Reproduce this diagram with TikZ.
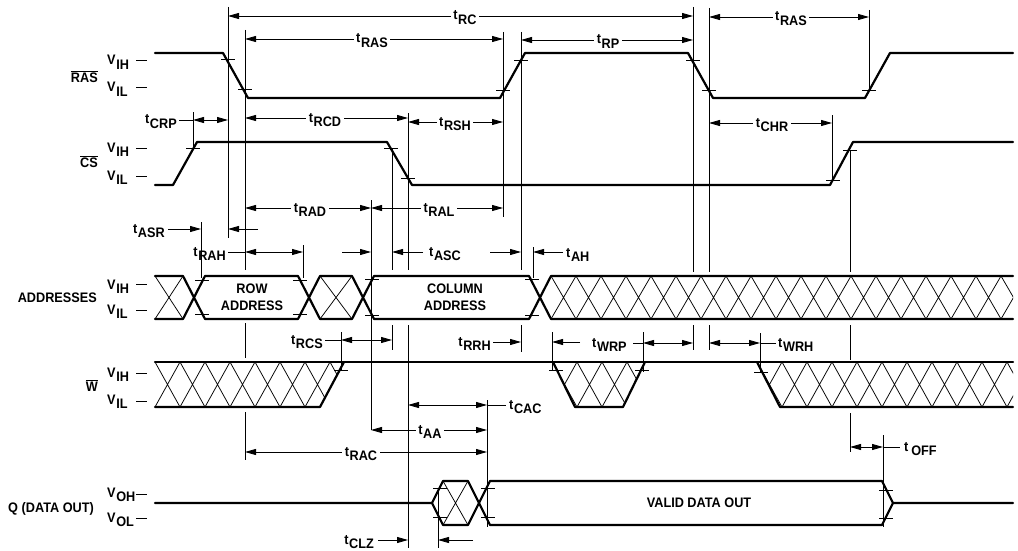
\documentclass[tikz,border=0pt]{standalone}
\usepackage{fontspec}
\setmainfont{Liberation Sans Bold}[FakeStretch=0.92]
\usetikzlibrary{arrows.meta}
\newcommand\lv[2]{#1\kern0.6pt\lower4.5pt\hbox{#2}}
\newcommand\ovl[1]{$\overline{\mbox{#1}}$}
\newcommand\tk[2]{\draw[tick] (#1,#2) ++(-7,0) -- ++(14,0);}
\begin{document}
\begin{tikzpicture}[x=1pt,y=-1pt,
  sig/.style={line width=2.2pt,line join=round,line cap=round},
  ref/.style={line width=0.8pt},
  hatch/.style={line width=0.75pt},
  tick/.style={line width=1pt},
  dim/.style={line width=0.8pt},
  >={Triangle[length=11pt,width=6pt]},
  lab/.style={font=\fontsize{13.8}{17}\selectfont, inner sep=0pt},
  tl/.style={lab, fill=white, inner xsep=2.5pt, inner ysep=1pt, anchor=base},
]
\useasboundingbox (0,0) rectangle (1018,551);

% ---------- signal names and levels ----------
\node[lab,anchor=base east] (nRAS) at (98,82) {\ovl{RAS}};
\node[lab,anchor=base west] (vRASh) at (107,65) {\lv{V}{IH}};
\node[lab,anchor=base west] (vRASl) at (107,92) {\lv{V}{IL}};
\draw[tick] (136,61) -- (147,61) (136,88) -- (147,88);

\node[lab,anchor=base east] (nCS) at (98,167) {\ovl{CS}};
\node[lab,anchor=base west] (vCSh) at (107,152) {\lv{V}{IH}};
\node[lab,anchor=base west] (vCSl) at (107,180) {\lv{V}{IL}};
\draw[tick] (136,148) -- (147,148) (136,176) -- (147,176);

\node[lab,anchor=base east] (nADR) at (97,302) {ADDRESSES};
\node[lab,anchor=base west] (vADh) at (107,289) {\lv{V}{IH}};
\node[lab,anchor=base west] (vADl) at (107,314) {\lv{V}{IL}};
\draw[tick] (136,284) -- (147,284) (136,310) -- (147,310);

\node[lab,anchor=base east] (nW) at (98,391) {\ovl{W}};
\node[lab,anchor=base west] (vWh) at (107,377) {\lv{V}{IH}};
\node[lab,anchor=base west] (vWl) at (107,404) {\lv{V}{IL}};
\draw[tick] (136,373) -- (147,373) (136,401) -- (147,401);

\node[lab,anchor=base east] (nQ) at (94,512) {Q (DATA OUT)};
\node[lab,anchor=base west] (vQh) at (107,497) {\lv{V}{OH}};
\node[lab,anchor=base west] (vQl) at (107,522) {\lv{V}{OL}};
\draw[tick] (136,494) -- (147,494) (136,518) -- (147,518);

% ---------- RAS ----------
\draw[sig] (155,53) -- (223,53) -- (248,98) -- (500,98) -- (525,53) -- (688,53) -- (713,98) -- (865,98) -- (890,53) -- (1013,53);
\tk{228}{60} \tk{245}{90} \tk{503}{91} \tk{521}{61} \tk{693}{61} \tk{709}{91} \tk{869}{91}

% ---------- CS ----------
\draw[sig] (155,185) -- (173,185) -- (197,142) -- (387,142) -- (412,185) -- (830,185) -- (853,142) -- (1013,142);
\tk{193}{148} \tk{391}{148} \tk{408}{178} \tk{833}{180} \tk{850}{150}

% ---------- ADDRESSES ----------
\draw[hatch] (155,276) -- (183,319) (155,319) -- (183,276);
\draw[hatch] (320,276) -- (352,319) (320,319) -- (352,276);
\begin{scope}
  \clip (540,297.5) -- (551,276) -- (1013,276) -- (1013,319) -- (551,319) -- cycle;
  \foreach \i in {0,...,18} \draw[hatch] (551+25*\i,276) -- ++(25,43) (551+25*\i,319) -- ++(25,-43);
\end{scope}
\draw[sig] (155,276) -- (183,276) -- (205,319) -- (298,319) -- (320,276) -- (352,276) -- (374,319) -- (529,319) -- (551,276) -- (1013,276);
\draw[sig] (155,319) -- (183,319) -- (205,276) -- (298,276) -- (320,319) -- (352,319) -- (374,276) -- (529,276) -- (551,319) -- (1013,319);
\tk{202}{280} \tk{202}{314} \tk{300}{280} \tk{300}{314} \tk{372}{279} \tk{372}{315} \tk{532}{279} \tk{532}{315}
\node[lab,align=center] (row) at (252,297) {ROW\\ADDRESS};
\node[lab,align=center] (col) at (455,297) {COLUMN\\ADDRESS};

% ---------- W ----------
\begin{scope}
  \clip (155,362) -- (344,362) -- (320,407) -- (155,407) -- cycle;
  \foreach \i in {0,...,7} \draw[hatch] (155+25*\i,362) -- ++(25,45) (155+25*\i,407) -- ++(25,-45);
\end{scope}
\begin{scope}
  \clip (553,362) -- (645,362) -- (623,407) -- (575,407) -- cycle;
  \foreach \i in {0,...,3} \draw[hatch] (552+25*\i,362) -- ++(25,45) (552+25*\i,407) -- ++(25,-45);
\end{scope}
\begin{scope}
  \clip (757,362) -- (1013,362) -- (1013,407) -- (780,407) -- cycle;
  \foreach \i in {0,...,10} \draw[hatch] (757+25*\i,362) -- ++(25,45) (757+25*\i,407) -- ++(25,-45);
\end{scope}
\draw[sig] (155,362) -- (1013,362);
\draw[sig] (155,407) -- (320,407) -- (344,362);
\draw[sig] (553,362) -- (575,407) -- (623,407) -- (645,362);
\draw[sig] (757,362) -- (780,407) -- (1013,407);
\tk{341}{370} \tk{556}{370} \tk{642}{370} \tk{761}{372}

% ---------- Q ----------
\draw[hatch] (443,481) -- (468,525) (443,525) -- (468,481);
\draw[sig] (155,503) -- (432,503) -- (443,481) -- (468,481) -- (490,525) -- (882,525) -- (893,503) -- (1013,503);
\draw[sig] (432,503) -- (443,525) -- (468,525) -- (490,481) -- (882,481) -- (893,503);
\tk{440}{488} \tk{440}{517} \tk{488}{488} \tk{488}{517} \tk{886}{490} \tk{886}{518}
\node[lab] (valid) at (699,503) {VALID DATA OUT};

% ---------- reference lines ----------
\draw[ref] (228,7) -- (228,238);
\draw[ref] (245,30) -- (245,270) (245,323) -- (245,358) (245,412) -- (245,460);
\draw[ref] (193,112) -- (193,148);
\draw[ref] (201,222) -- (201,278);
\draw[ref] (303,245) -- (303,278);
\draw[ref] (371,200) -- (371,430);
\draw[ref] (392,148) -- (392,270) (392,325) -- (392,350);
\draw[ref] (408,113) -- (408,270) (408,325) -- (408,548);
\draw[ref] (503,32) -- (503,217);
\draw[ref] (521,32) -- (521,270) (521,325) -- (521,352);
\draw[ref] (533,247) -- (533,278);
\draw[ref] (341,332) -- (341,370);
\draw[ref] (552,332) -- (552,370);
\draw[ref] (643,332) -- (643,372);
\draw[ref] (693,7) -- (693,272) (693,325) -- (693,350);
\draw[ref] (709,8) -- (709,272) (709,325) -- (709,350);
\draw[ref] (760,333) -- (760,372);
\draw[ref] (869,10) -- (869,91);
\draw[ref] (832,115) -- (832,182);
\draw[ref] (850,150) -- (850,272) (850,325) -- (850,360) (850,413) -- (850,452);
\draw[ref] (883,435) -- (883,527);
\draw[ref] (438,488) -- (438,548);
\draw[ref] (487,400) -- (487,527);

% ---------- dimensions ----------
\draw[dim,<->] (228,16) -- (693,16);   \node[tl] (tRC) at (465,20) {\lv{t}{RC}};
\draw[dim,<->] (245,39) -- (503,39);   \node[tl] (tRAS) at (372,43) {\lv{t}{RAS}};
\draw[dim,<->] (521,40) -- (693,40);   \node[tl] (tRP) at (608,44) {\lv{t}{RP}};
\draw[dim,<->] (709,17) -- (869,17);   \node[tl] (tRAS2) at (791,21) {\lv{t}{RAS}};

\node[lab,anchor=base east] (tCRP) at (177,124) {\lv{t}{CRP}};
\draw[dim] (179,120) -- (193,120);
\draw[dim,<->] (193,120) -- (228,120);
\draw[dim,<->] (245,118) -- (408,118);  \node[tl] (tRCD) at (325,122) {\lv{t}{RCD}};
\draw[dim,<->] (408,122) -- (503,122);  \node[tl] (tRSH) at (455,126) {\lv{t}{RSH}};
\draw[dim,<->] (709,123) -- (832,123);  \node[tl] (tCHR) at (772,127) {\lv{t}{CHR}};

\draw[dim,<->] (245,208) -- (371,208);  \node[tl] (tRAD) at (310,212) {\lv{t}{RAD}};
\draw[dim,<->] (371,208) -- (503,208);  \node[tl] (tRAL) at (439,212) {\lv{t}{RAL}};

\node[lab,anchor=base east] (tASR) at (165,233) {\lv{t}{ASR}};
\draw[dim,->] (168,229) -- (201,229);
\draw[dim,->] (258,229) -- (228,229);

\node[lab,anchor=base east] (tRAH) at (226,256) {\lv{t}{RAH}};
\draw[dim] (228,252) -- (245,252);
\draw[dim,<->] (245,252) -- (303,252);

\draw[dim,->] (342,252) -- (371,252);
\draw[dim,->] (423,252) -- (392,252);
\node[lab,anchor=base west] (tASC) at (429,256) {\lv{t}{ASC}};

\draw[dim,->] (490,252) -- (521,252);
\draw[dim,->] (563,252) -- (533,252);
\node[lab,anchor=base west] (tAH) at (566,257) {\lv{t}{AH}};

\node[lab,anchor=base east] (tRCS) at (323,344) {\lv{t}{RCS}};
\draw[dim] (325,340) -- (341,340);
\draw[dim,<->] (341,340) -- (392,340);

\node[lab,anchor=base east] (tRRH) at (491,346) {\lv{t}{RRH}};
\draw[dim,->] (493,342) -- (521,342);
\draw[dim,->] (580,342) -- (552,342);

\node[lab,anchor=base west] (tWRP) at (592,347) {\lv{t}{WRP}};
\draw[dim] (633,343) -- (643,343);
\draw[dim,<->] (643,343) -- (693,343);

\draw[dim,<->] (709,343) -- (760,343);
\draw[dim] (760,343) -- (776,343);
\node[lab,anchor=base west] (tWRH) at (778,347) {\lv{t}{WRH}};

\draw[dim,<->] (408,405) -- (487,405);
\draw[dim] (487,405) -- (506,405);
\node[lab,anchor=base west] (tCAC) at (509,409) {\lv{t}{CAC}};

\draw[dim,<->] (371,430) -- (487,430);  \node[tl] (tAA) at (430,434) {\lv{t}{AA}};
\draw[dim,<->] (245,452) -- (487,452);  \node[tl] (tRAC) at (361,456) {\lv{t}{RAC}};

\node[lab,anchor=base east] (tCLZ) at (374,544) {\lv{t}{CLZ}};
\draw[dim,->] (378,540) -- (408,540);
\draw[dim,->] (473,540) -- (438,540);

\draw[dim,<->] (850,447) -- (883,447);
\draw[dim] (883,447) -- (900,447);
\node[lab,anchor=base west] (tOFF) at (904,451) {\lv{t}{\,OFF}};
\end{tikzpicture}
\end{document}
